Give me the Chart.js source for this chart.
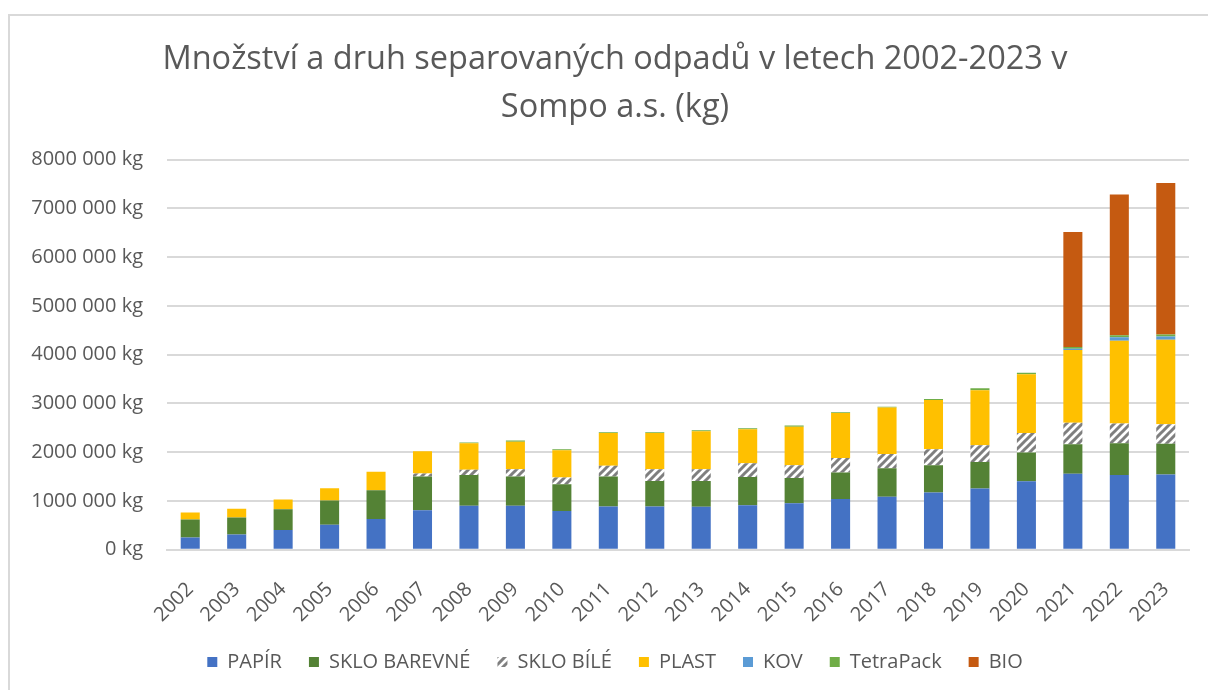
<!DOCTYPE html>
<html>
<head>
<meta charset="utf-8">
<script src="https://cdn.jsdelivr.net/npm/chart.js@4"></script>
<style>
    html, body { margin: 0; padding: 0; background: #fff; overflow: hidden; }
    #box {
        position: absolute; left: 8px; top: 14px; width: 1212px; height: 676px;
        border-left: 2px solid #d9d9d9; border-top: 2px solid #d9d9d9;
        box-sizing: border-box;
    }
</style>
</head>
<body>
<div id="box"><canvas id="odpadyChart"></canvas></div>
<script>
const years = ['2002', '2003', '2004', '2005', '2006', '2007', '2008', '2009', '2010', '2011', '2012',
    '2013', '2014', '2015', '2016', '2017', '2018', '2019', '2020', '2021', '2022', '2023'];

// hodnoty v kg, odhadnuto z grafu
const papir = [250000, 310000, 405000, 510000, 630000, 810000, 900000, 900000, 795000, 885000, 885000,
    880000, 910000, 950000, 1040000, 1085000, 1170000, 1255000, 1405000, 1555000, 1530000, 1540000];
const skloBarevne = [370000, 350000, 425000, 500000, 590000, 690000, 630000, 600000, 545000, 615000, 525000,
    530000, 580000, 520000, 540000, 585000, 560000, 545000, 590000, 605000, 650000, 630000];
const skloBile = [0, 0, 0, 0, 0, 60000, 110000, 150000, 140000, 220000, 240000,
    240000, 280000, 260000, 300000, 290000, 330000, 340000, 395000, 440000, 405000, 400000];
const plast = [140000, 180000, 200000, 250000, 380000, 460000, 540000, 565000, 560000, 670000, 740000,
    780000, 700000, 790000, 920000, 955000, 1010000, 1130000, 1205000, 1495000, 1700000, 1735000];
const kov = [0, 0, 0, 0, 0, 0, 0, 0, 0, 0, 0,
    0, 0, 0, 0, 0, 0, 0, 0, 25000, 70000, 65000];
const tetraPack = [0, 0, 0, 0, 0, 0, 20000, 25000, 20000, 20000, 20000,
    20000, 20000, 25000, 20000, 15000, 20000, 40000, 35000, 35000, 40000, 40000];
const bio = [0, 0, 0, 0, 0, 0, 0, 0, 0, 0, 0,
    0, 0, 0, 0, 0, 0, 0, 0, 2360000, 2885000, 3110000];

const yTicksMax = 8000000;
const yStep = 1000000;

// sraffovani pro bile sklo
function makeHatch() {
    const size = 8;
    const c = document.createElement('canvas');
    c.width = size;
    c.height = size;
    const g = c.getContext('2d');
    g.fillStyle = '#ffffff';
    g.fillRect(0, 0, size, size);
    g.strokeStyle = '#7f7f7f';
    g.lineWidth = 3;
    g.beginPath();
    g.moveTo(0, size); g.lineTo(size, 0);
    g.moveTo(-size / 2, size / 2); g.lineTo(size / 2, -size / 2);
    g.moveTo(size / 2, size * 1.5); g.lineTo(size * 1.5, size / 2);
    g.stroke();
    return g.createPattern(c, 'repeat');
}

function formatKg(v) {
    if (v === 0) return '0 kg';
    return Math.floor(v / 1000) + ' ' + String(v % 1000).padStart(3, '0') + ' kg';
}

const font = 'Open Sans';
const textColor = '#595959';

const ctx = document.getElementById('odpadyChart').getContext('2d');
new Chart(ctx, {
    type: 'bar',
    data: {
        labels: years,
        datasets: [
            { label: 'PAPÍR', data: papir, backgroundColor: '#4472c4' },
            { label: 'SKLO BAREVNÉ', data: skloBarevne, backgroundColor: '#548235' },
            { label: 'SKLO BÍLÉ', data: skloBile, backgroundColor: makeHatch() },
            { label: 'PLAST', data: plast, backgroundColor: '#ffc000' },
            { label: 'KOV', data: kov, backgroundColor: '#5b9bd5' },
            { label: 'TetraPack', data: tetraPack, backgroundColor: '#70ad47' },
            { label: 'BIO', data: bio, backgroundColor: '#c55a11' }
        ]
    },
    options: {
        responsive: true,
        maintainAspectRatio: false,
        animation: false,
        datasets: {
            bar: { barPercentage: 0.41, categoryPercentage: 1, borderWidth: 0 }
        },
        layout: { padding: { left: 7, right: 7, top: 0, bottom: 8 } },
        plugins: {
            title: {
                display: true,
                text: ['Množství a druh separovaných odpadů v letech 2002-2023 v', 'Sompo a.s. (kg)'],
                color: textColor,
                font: { family: font, size: 32.5, weight: 'normal', lineHeight: 1.5 },
                padding: { top: 19, bottom: 27 }
            },
            legend: {
                position: 'bottom',
                labels: {
                    color: textColor,
                    font: { family: font, size: 20 },
                    boxWidth: 10,
                    boxHeight: 10,
                    padding: 27
                }
            },
            tooltip: { enabled: false }
        },
        scales: {
            x: {
                stacked: true,
                grid: { display: false, drawTicks: false },
                border: { color: '#d9d9d9', width: 2 },
                ticks: {
                    color: textColor,
                    font: { family: font, size: 20 },
                    maxRotation: 45,
                    minRotation: 45,
                    padding: 28
                },
                afterFit: scale => { scale.height -= 30; }
            },
            y: {
                stacked: true,
                min: 0,
                max: yTicksMax,
                grid: { color: '#d9d9d9', lineWidth: 2, drawTicks: false },
                border: { display: false },
                ticks: {
                    stepSize: yStep,
                    color: textColor,
                    font: { family: font, size: 20 },
                    padding: 24,
                    callback: v => formatKg(v)
                },
                afterFit: scale => { scale.width = 150; }
            },
            // prazdna osa vpravo jen kvuli okraji
            yRight: {
                position: 'right',
                grid: { display: false, drawTicks: false },
                border: { display: false },
                ticks: { display: false },
                afterFit: scale => { scale.width = 24; }
            }
        }
    }
});
</script>
</body>
</html>
